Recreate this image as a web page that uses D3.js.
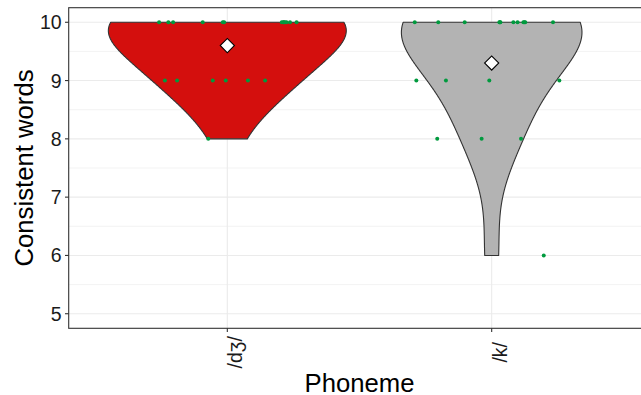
<!DOCTYPE html>
<html><head><meta charset="utf-8">
<script src="https://cdn.jsdelivr.net/npm/d3@7"></script>
<style>body{margin:0;background:#fff}svg{display:block}text{font-family:"Liberation Sans",Arial,Helvetica,sans-serif}</style>
</head><body><svg id="c" width="641" height="395"></svg>
<script>
// ---- data ----
const categories = ["/dʒ/", "/k/"];
const fillColors = ["#D40F0D", "#B3B3B3"];
const yTicks = [5, 6, 7, 8, 9, 10];
// each observation: value and its horizontal jitter (in category units)
const dzValues = [10,10,10,10,10,10,10,10,10,10,10,10,10, 9,9,9,9,9,9, 8];
const dzJitter = [-0.258,-0.223,-0.205,-0.093,-0.017,-0.012,0.206,0.212,0.214,0.218,0.224,0.237,0.262,
                  -0.236,-0.190,-0.055,-0.006,0.078,0.143, -0.072];
const kValues = [10,10,10,10,10,10,10,10,10,10,10,10, 9,9,9,9, 8,8,8, 6];
const kJitter = [-0.291,-0.202,-0.102,0.029,0.031,0.033,0.082,0.098,0.120,0.124,0.127,0.232,
                 -0.285,-0.173,-0.009,0.256, -0.206,-0.038,0.111, 0.197];
const groups = [
  {cat: categories[0], values: dzValues, jitter: dzJitter, fill: fillColors[0]},
  {cat: categories[1], values: kValues, jitter: kJitter, fill: fillColors[1]}
];
const bwAdjust = 2;

// ---- layout ----
const svg = d3.select("#c");
const P = {left: 68.7, right: 650.3, top: 7.7, bottom: 328.3};
const x = d3.scalePoint().domain(categories).range([P.left, P.right]).padding(0.6);
const step = x.step();
const y = d3.scaleLinear().domain([4.75, 10.25]).range([P.bottom, P.top]);

// grid
const g = svg.append("g");
g.append("rect").attr("x", P.left).attr("y", P.top).attr("width", P.right - P.left).attr("height", P.bottom - P.top).attr("fill", "#fff");
const minor = d3.range(5.5, 10, 1);
g.selectAll(".mn").data(minor).enter().append("line")
  .attr("x1", P.left).attr("x2", P.right).attr("y1", d => y(d)).attr("y2", d => y(d))
  .attr("stroke", "#EBEBEB").attr("stroke-width", 0.6);
g.selectAll(".mj").data(yTicks).enter().append("line")
  .attr("x1", P.left).attr("x2", P.right).attr("y1", d => y(d)).attr("y2", d => y(d))
  .attr("stroke", "#EBEBEB").attr("stroke-width", 1.1);
g.selectAll(".vx").data(categories).enter().append("line")
  .attr("x1", d => x(d)).attr("x2", d => x(d)).attr("y1", P.top).attr("y2", P.bottom)
  .attr("stroke", "#EBEBEB").attr("stroke-width", 1.1);

// ---- KDE (gaussian, nrd0 bandwidth * adjust), trimmed to data range ----
function nrd0(v) {
  const s = d3.sort(v);
  const sd = d3.deviation(s);
  const iqr = (d3.quantileSorted(s, 0.75) - d3.quantileSorted(s, 0.25)) / 1.34;
  const lo = Math.min(sd, iqr) || sd || 1;
  return 0.9 * lo * Math.pow(s.length, -0.2);
}
groups.forEach(gr => {
  const h = nrd0(gr.values) * bwAdjust;
  const [mn, mx] = d3.extent(gr.values);
  const grid = d3.range(512).map(i => mn + (mx - mn) * i / 511);
  gr.dens = grid.map(v => ({v, d: d3.sum(gr.values, xi => Math.exp(-0.5 * ((v - xi) / h) ** 2)) / (gr.values.length * h * Math.sqrt(2 * Math.PI))}));
});
const maxD = d3.max(groups, gr => d3.max(gr.dens, d => d.d));

groups.forEach(gr => {
  const cx = x(gr.cat);
  const w = d => d.d / maxD * 0.9 * step / 2;
  const area = d3.area().y(d => y(d.v)).x0(d => cx - w(d)).x1(d => cx + w(d));
  svg.append("path").attr("d", area(gr.dens)).attr("fill", gr.fill)
    .attr("stroke", "#333333").attr("stroke-width", 1.1).attr("stroke-linejoin", "round");
});

// points
groups.forEach(gr => {
  svg.append("g").selectAll("circle").data(gr.values).enter().append("circle")
    .attr("cx", (d, i) => x(gr.cat) + gr.jitter[i] * step)
    .attr("cy", d => y(d)).attr("r", 2).attr("fill", "#009A3E");
});

// means (diamond)
const diamond = d3.symbol().type(d3.symbolDiamond2 || d3.symbolSquare).size(100);
groups.forEach(gr => {
  const m = d3.mean(gr.values);
  svg.append("rect").attr("x", -5).attr("y", -5).attr("width", 10).attr("height", 10)
    .attr("transform", `translate(${x(gr.cat)},${y(m)}) rotate(45)`)
    .attr("fill", "#fff").attr("stroke", "#000").attr("stroke-width", 1.1);
});

// panel border
svg.append("rect").attr("x", P.left).attr("y", P.top).attr("width", P.right - P.left).attr("height", P.bottom - P.top)
  .attr("fill", "none").attr("stroke", "#333333").attr("stroke-width", 1.1);

// y axis
const ya = svg.append("g");
ya.selectAll("line").data(yTicks).enter().append("line")
  .attr("x1", P.left - 3.7).attr("x2", P.left).attr("y1", d => y(d)).attr("y2", d => y(d))
  .attr("stroke", "#333333").attr("stroke-width", 1.1);
ya.selectAll("text").data(yTicks).enter().append("text")
  .attr("x", P.left - 7).attr("y", d => y(d)).attr("dy", "0.36em").attr("text-anchor", "end")
  .attr("font-size", 19.5).attr("fill", "#1a1a1a").text(d => d);

// x axis
const xa = svg.append("g");
xa.selectAll("line").data(categories).enter().append("line")
  .attr("x1", d => x(d)).attr("x2", d => x(d)).attr("y1", P.bottom).attr("y2", P.bottom + 3.7)
  .attr("stroke", "#333333").attr("stroke-width", 1.1);
xa.selectAll("text").data(categories).enter().append("text")
  .attr("transform", d => `translate(${x(d) + 15},${P.bottom + 24}) rotate(-90)`)
  .attr("text-anchor", "middle").attr("font-size", 19.5).attr("fill", "#1a1a1a").text(d => d);

// titles
svg.append("text").attr("x", (P.left + P.right) / 2).attr("y", 391.5).attr("text-anchor", "middle")
  .attr("font-size", 25.7).attr("fill", "#000").text("Phoneme");
svg.append("text").attr("transform", `translate(33,${(P.top + P.bottom) / 2}) rotate(-90)`).attr("text-anchor", "middle")
  .attr("font-size", 25.7).attr("fill", "#000").text("Consistent words");
</script></body></html>
